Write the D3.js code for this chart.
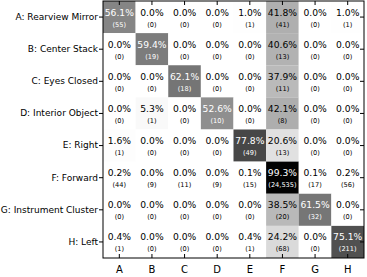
<!DOCTYPE html>
<html>
<head>
<meta charset="utf-8">
<script src="https://cdn.jsdelivr.net/npm/d3@7"></script>
<style>
  html, body { margin: 0; padding: 0; background: #fff; }
  svg { display: block; font-family: 'DejaVu Sans', sans-serif; }
</style>
</head>
<body>
<div id="chart"></div>
<script>
// true classes (rows) and predicted classes (columns)
const rowLabels = ['A: Rearview Mirror', 'B: Center Stack', 'C: Eyes Closed', 'D: Interior Object',
  'E: Right', 'F: Forward', 'G: Instrument Cluster', 'H: Left'];
const colLabels = ['A', 'B', 'C', 'D', 'E', 'F', 'G', 'H'];

// sample counts per cell, one array per true class
const countsA = [55, 0, 0, 0, 1, 41, 0, 1];
const countsB = [0, 19, 0, 0, 0, 13, 0, 0];
const countsC = [0, 0, 18, 0, 0, 11, 0, 0];
const countsD = [0, 1, 0, 10, 0, 8, 0, 0];
const countsE = [1, 0, 0, 0, 49, 13, 0, 0];
const countsF = [44, 9, 11, 9, 15, 24535, 17, 56];
const countsG = [0, 0, 0, 0, 0, 20, 32, 0];
const countsH = [1, 0, 0, 0, 1, 68, 0, 211];
const counts = [countsA, countsB, countsC, countsD, countsE, countsF, countsG, countsH];

const width = 367, height = 277;
const margin = { top: 1, right: 3, bottom: 19, left: 103 };

const cells = [];
counts.forEach((row, i) => {
  const total = d3.sum(row);
  row.forEach((n, j) => {
    cells.push({ row: rowLabels[i], col: colLabels[j], n: n, p: n / total });
  });
});

const x = d3.scaleBand()
  .domain(colLabels)
  .range([margin.left, width - margin.right]);
const y = d3.scaleBand()
  .domain(rowLabels)
  .range([margin.top, height - margin.bottom]);
const color = d3.scaleSequential(d3.interpolateGreys).domain([0, 1]);

const svg = d3.select('#chart').append('svg')
  .attr('width', width)
  .attr('height', height);

// cells
svg.append('g')
  .selectAll('rect')
  .data(cells)
  .join('rect')
  .attr('x', d => x(d.col))
  .attr('y', d => y(d.row))
  .attr('width', x.bandwidth())
  .attr('height', y.bandwidth())
  .attr('fill', d => color(d.p));

// cell labels: percent on top, count below
const lbl = svg.append('g')
  .selectAll('g')
  .data(cells)
  .join('g')
  .attr('transform', d => `translate(${x(d.col) + x.bandwidth() / 2},${y(d.row)})`)
  .attr('fill', d => d.p > 0.5 ? '#fff' : '#000')
  .attr('text-anchor', 'middle');

lbl.append('text')
  .attr('y', 14.5)
  .attr('font-size', 9.2)
  .text(d => d3.format('.1f')(d.p * 100) + '%');

lbl.append('text')
  .attr('y', 25.5)
  .attr('font-size', 6.6)
  .text(d => '(' + d3.format(',')(d.n) + ')');

// axes
const fontAxis = g => g.attr('font-family', 'DejaVu Sans, sans-serif')
  .call(g => g.select('.domain').remove())
  .call(g => g.selectAll('.tick line').attr('stroke', '#000'));

svg.append('g')
  .attr('transform', `translate(${margin.left},0)`)
  .call(d3.axisLeft(y).tickSize(4).tickPadding(1))
  .call(fontAxis)
  .call(g => g.selectAll('.tick text').attr('font-size', 9).attr('fill', '#000'));

svg.append('g')
  .attr('transform', `translate(0,${height - margin.bottom})`)
  .call(d3.axisBottom(x).tickSize(-4).tickPadding(7.5))
  .call(fontAxis)
  .call(g => g.selectAll('.tick text').attr('font-size', 10).attr('fill', '#000'));

svg.append('g')
  .attr('transform', `translate(0,${margin.top})`)
  .call(d3.axisTop(x).tickSize(-4).tickFormat(''))
  .call(fontAxis);

svg.append('g')
  .attr('transform', `translate(${width - margin.right},0)`)
  .call(d3.axisRight(y).tickSize(-4).tickFormat(''))
  .call(fontAxis);

// frame
svg.append('rect')
  .attr('x', margin.left)
  .attr('y', margin.top)
  .attr('width', width - margin.left - margin.right)
  .attr('height', height - margin.top - margin.bottom)
  .attr('fill', 'none')
  .attr('stroke', '#000')
  .attr('stroke-width', 1);
</script>
</body>
</html>
